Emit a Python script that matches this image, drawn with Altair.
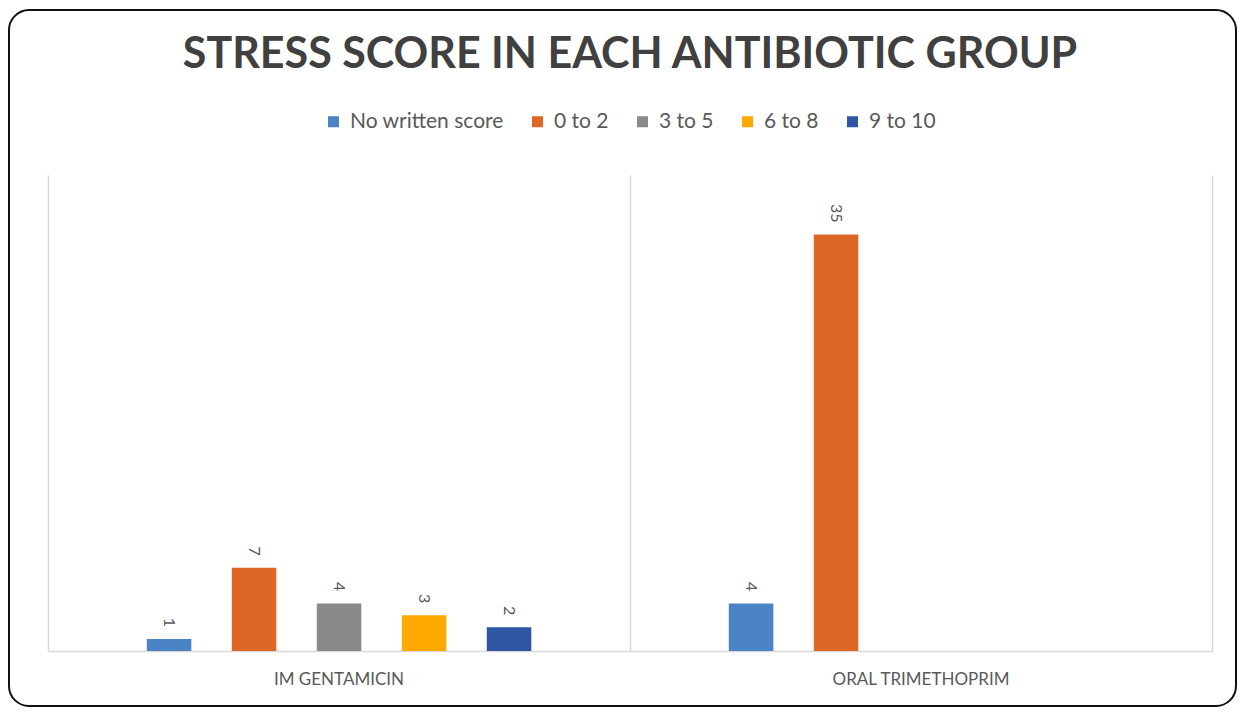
import altair as alt
import pandas as pd

groups = ["IM GENTAMICIN", "ORAL TRIMETHOPRIM"]
categories = ["No written score", "0 to 2", "3 to 5", "6 to 8", "9 to 10"]
gentamicin = [1, 7, 4, 3, 2]
trimethoprim = [4, 35, None, None, None]
colors = ["#4a84c4", "#dd6826", "#8a8a8a", "#ffa800", "#2f55a5"]

rows = []
for g, vals in zip(groups, [gentamicin, trimethoprim]):
    for c, v in zip(categories, vals):
        if v is not None:
            rows.append({"group": g, "category": c, "value": v})
df = pd.DataFrame(rows)

W, H = 1164, 476
FONT = "Lato"
GRID = "#d9d9d9"
TXT = "#595959"

x = alt.X(
    "group:N",
    sort=groups,
    title=None,
    scale=alt.Scale(domain=groups, paddingInner=0, paddingOuter=0),
    axis=alt.Axis(
        ticks=False,
        grid=True,
        gridColor=GRID,
        gridWidth=1.5,
        bandPosition=0,
        domainColor=GRID,
        domainWidth=1.5,
        labelAngle=0,
        labelFont=FONT,
        labelFontSize=17,
        labelColor=TXT,
        labelPadding=20,
    ),
)
xo = alt.XOffset(
    "category:N",
    sort=categories,
    scale=alt.Scale(domain=categories, range=[56.3, 525.8], paddingInner=0.476, paddingOuter=0.5),
)
y = alt.Y(
    "value:Q",
    scale=alt.Scale(domain=[0, 40]),
    axis=alt.Axis(
        orient="right",
        labels=False,
        ticks=False,
        grid=False,
        domainColor=GRID,
        domainWidth=1.5,
        title=None,
    ),
)
color = alt.Color(
    "category:N",
    sort=categories,
    scale=alt.Scale(domain=categories, range=colors),
    legend=alt.Legend(
        title=None,
        orient="none",
        legendX=275,
        legendY=-64,
        direction="horizontal",
        columns=5,
        symbolType="square",
        symbolSize=121,
        symbolStrokeWidth=0,
        labelFont=FONT,
        labelFontSize=21,
        labelColor=TXT,
        labelOffset=6,
        columnPadding=23,
    ),
)

frame = alt.Chart(alt.Data(values=[{"k": 1}])).mark_rect(
    fill=None, stroke="#111111", strokeWidth=2, cornerRadius=20
).encode(
    x=alt.value(-39), x2=alt.value(W + 24), y=alt.value(-165), y2=alt.value(H + 55)
)

bars = alt.Chart(df).mark_bar().encode(x=x, xOffset=xo, y=y, color=color)

labels = alt.Chart(df).mark_text(
    angle=90, align="right", baseline="middle", dx=-12,
    font=FONT, fontSize=16, color=TXT,
).encode(x=x, xOffset=xo, y=y, text="value:Q")

chart = (
    alt.layer(frame, bars, labels)
    .properties(
        width=W,
        height=H,
        title=alt.TitleParams(
            "STRESS SCORE IN EACH ANTIBIOTIC GROUP",
            font=FONT,
            fontSize=43,
            fontWeight="bold",
            color="#404040",
            anchor="middle",
            offset=-68,
        ),
        autosize=alt.AutoSizeParams(type="none"),
        padding={"left": 40, "top": 167, "right": 25, "bottom": 58},
    )
    .configure_view(stroke=None)
)

chart.save("out.html", embed_options={"renderer": "svg", "actions": False})
